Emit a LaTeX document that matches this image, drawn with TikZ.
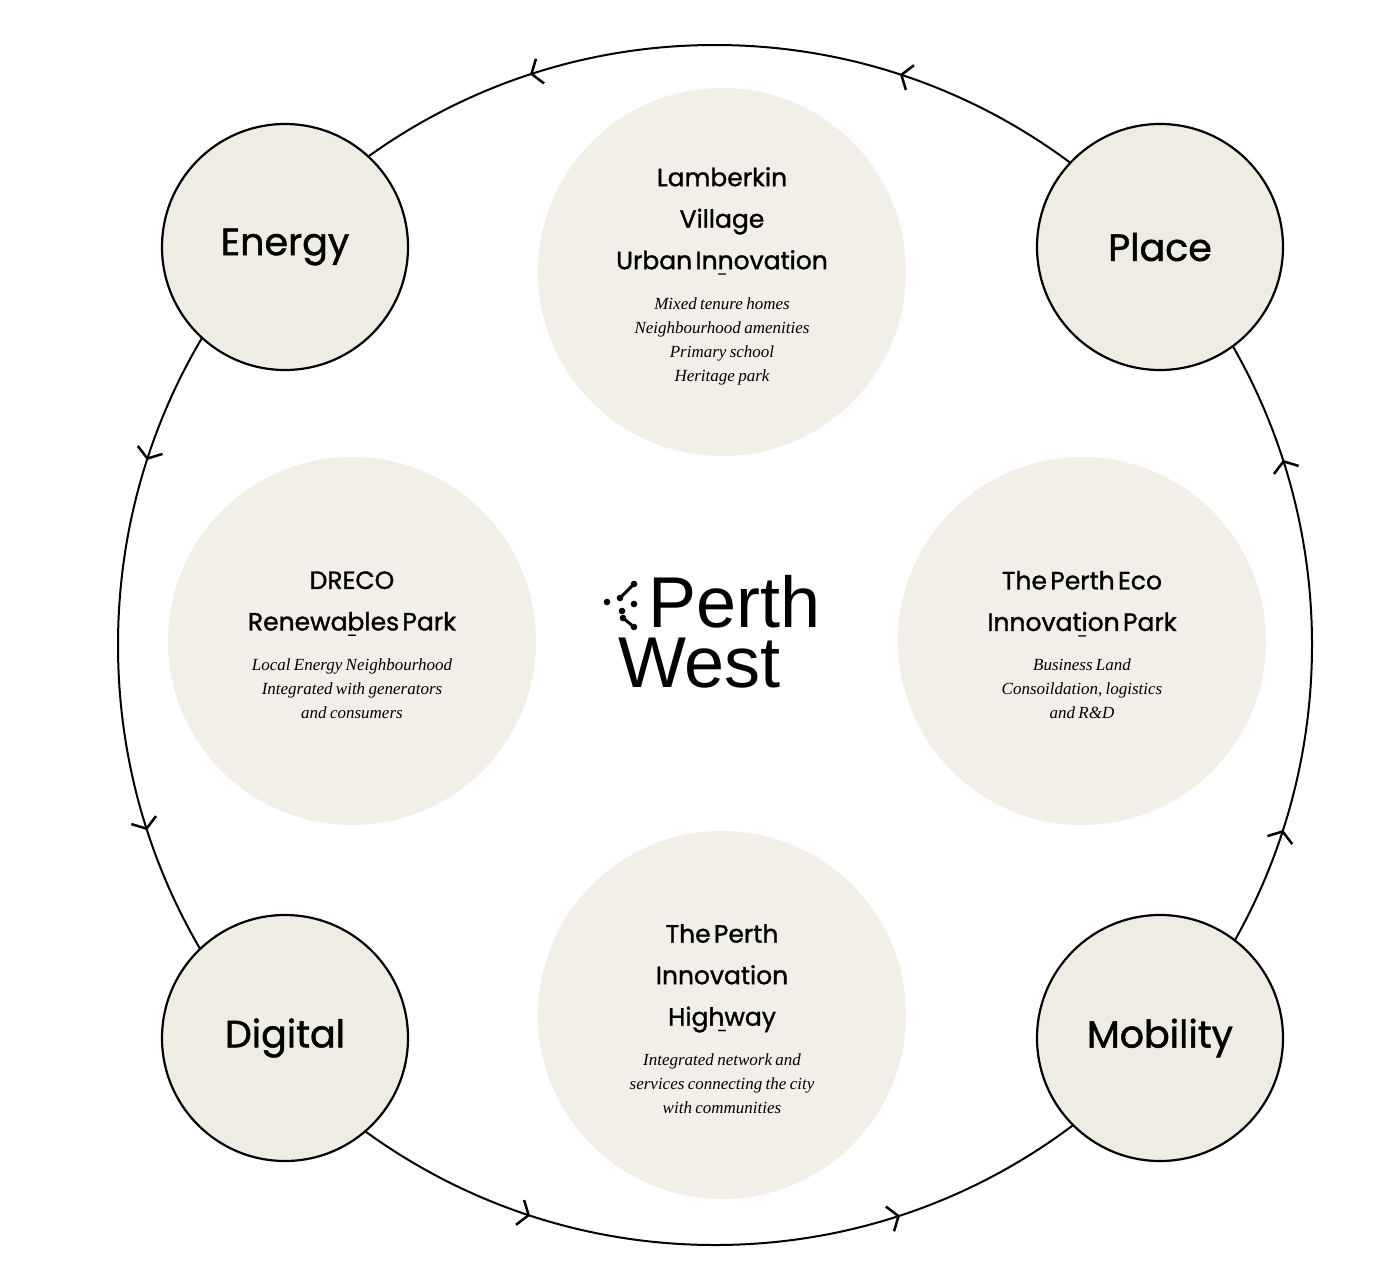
\documentclass[tikz,border=0pt]{standalone}
\usepackage{fontspec}
\setmainfont{Liberation Serif}
\newfontfamily\titf[FakeBold=1.2]{Poppins}
\newfontfamily\logof{Liberation Sans}
\usetikzlibrary{decorations.markings,arrows.meta}
\definecolor{beig}{HTML}{EFEDE3}
\definecolor{beigl}{HTML}{F1EFE7}
\begin{document}
\begin{tikzpicture}[x=1pt,y=-1pt,
 corner/.style={circle,draw=black,line width=2.2pt,fill=beig,minimum size=246pt,inner sep=0pt,font=\titf\fontsize{38}{44}\selectfont},
 inner/.style={circle,fill=beigl,minimum size=368pt,inner sep=0pt},
 txt/.style={inner sep=0pt,text width=330pt,align=center}]
\tikzset{barbtip/.tip={Straight Barb[length=9pt,width=26pt,line width=2.5pt]}}
\useasboundingbox (0,0) rectangle (1384,1280);
\fill[white] (0,0) rectangle (1384,1280);
\coordinate (C) at (715,645);
\draw[line width=2pt,postaction={decorate},decoration={markings,
 mark=at position 0.05 with {\arrow{barbtip}},
 mark=at position 0.2 with {\arrow{barbtip}},
 mark=at position 0.3 with {\arrow{barbtip}},
 mark=at position 0.45 with {\arrow{barbtip}},
 mark=at position 0.55 with {\arrow{barbtip}},
 mark=at position 0.7 with {\arrow{barbtip}},
 mark=at position 0.8 with {\arrow{barbtip}},
 mark=at position 0.95 with {\arrow{barbtip}}}]
 ([shift={(90:600)}]C) arc[start angle=90,end angle=-270,x radius=597,y radius=600];
\node[corner] (energy) at (285,247) {Energy};
\node[corner] (place) at (1160,247) {Place};
\node[corner] (digital) at (285,1038) {Digital};
\node[corner] (mobility) at (1160,1038) {Mobility};
\newcommand\tl[1]{{\titf\fontsize{25}{41.5}\selectfont #1\par}}
\newcommand\dsh{{\vspace{-4pt}\titf\fontsize{14}{14}\selectfont –\par}\vspace{6pt}}
\newcommand\bl[1]{{\itshape\fontsize{17}{24}\selectfont #1\par}}
\node[inner] (lamb) at (722,272) {};
\node[inner] (dreco) at (352,641) {};
\node[inner] (eco) at (1082,641) {};
\node[inner] (hwy) at (722,1015) {};
\node[txt] (lambt) at ([yshift=-4pt]lamb.center) {\tl{Lamberkin\\Village\\Urban Innovation}\dsh\bl{Mixed tenure homes\\Neighbourhood amenities\\Primary school\\Heritage park}};
\node[txt] (drecot) at ([yshift=-4pt]dreco.center) {\tl{DRECO\\Renewables Park}\dsh\bl{Local Energy Neighbourhood\\Integrated with generators\\and consumers}};
\node[txt] (ecot) at ([yshift=-4pt]eco.center) {\tl{The Perth Eco\\Innovation Park}\dsh\bl{Business Land\\Consoildation, logistics\\and R\&D}};
\node[txt] (hwyt) at ([yshift=-4pt]hwy.center) {\tl{The Perth\\Innovation\\Highway}\dsh\bl{Integrated network and\\services connecting the city\\with communities}};
\node[inner sep=0pt,align=left,anchor=west,font=\logof\fontsize{72}{62}\selectfont] (logo) at (648,632) {Perth\\[-2pt]\hspace*{-30pt}West};
\foreach \p in {(607,602),(620,598),(634,584),(622,611),(634,604),(634,627),(623,618)}
 \fill \p circle (3.3pt);
\draw[line width=3pt,line cap=round] (620,598)--(634,584);
\draw[line width=3pt,line cap=round] (623,618)--(634,627);
\end{tikzpicture}
\end{document}
